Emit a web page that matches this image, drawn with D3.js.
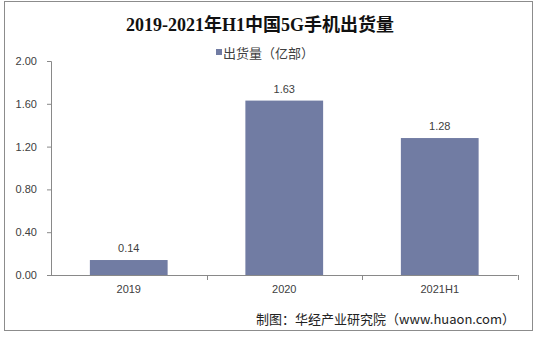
<!DOCTYPE html>
<html>
<head>
<meta charset="utf-8">
<script src="https://cdn.jsdelivr.net/npm/d3@7/dist/d3.min.js"></script>
<style>
  html, body { margin: 0; padding: 0; background: #fff; }
  svg { display: block; }
</style>
</head>
<body>
<svg id="chart" width="538" height="337"></svg>
<script>
// Shipment data
const categories = ["2019", "2020", "2021H1"];
const shipments = [0.14, 1.63, 1.28];
const yTicks = [0, 0.4, 0.8, 1.2, 1.6, 2.0];
const titleText = "2019-2021年H1中国5G手机出货量";
const legendText = "出货量（亿部）";
const sourceText = "制图：华经产业研究院（www.huaon.com）";

const svg = d3.select("#chart");
const sans = "Arial, 'Liberation Sans', 'Noto Sans CJK SC', sans-serif";
const cjk = "'Noto Sans CJK SC', 'Liberation Sans', sans-serif";
const barColor = "#717ca3";
const axisColor = "#898989";
const textColor = "#404040";

// Frame
svg.append("rect")
  .attr("x", 4.5).attr("y", 1.5)
  .attr("width", 528).attr("height", 329)
  .attr("fill", "#fff").attr("stroke", "#8c8c8c").attr("stroke-width", 1);

const plot = { left: 51, right: 517.5, top: 61, bottom: 275 };

const x = d3.scaleBand()
  .domain(categories)
  .range([plot.left, plot.right])
  .paddingInner(0.5).paddingOuter(0.25);

const y = d3.scaleLinear()
  .domain([0, 2])
  .range([plot.bottom, plot.top]);

// Bars
svg.append("g").selectAll("rect")
  .data(categories.map((c, i) => ({ c, v: shipments[i] })))
  .join("rect")
  .attr("x", d => x(d.c))
  .attr("y", d => y(d.v))
  .attr("width", x.bandwidth())
  .attr("height", d => y(0) - y(d.v))
  .attr("fill", barColor);

// Value labels
svg.append("g").selectAll("text")
  .data(categories.map((c, i) => ({ c, v: shipments[i] })))
  .join("text")
  .attr("x", d => x(d.c) + x.bandwidth() / 2)
  .attr("y", d => y(d.v) - 8)
  .attr("text-anchor", "middle")
  .attr("font-family", sans).attr("font-size", 11)
  .attr("fill", textColor)
  .text(d => d.v.toFixed(2));

// Y axis
const yAxis = d3.axisLeft(y)
  .tickValues(yTicks)
  .tickFormat(d3.format(".2f"))
  .tickSize(4).tickPadding(10);
const gy = svg.append("g").attr("transform", `translate(${plot.left},0)`).call(yAxis);
gy.select(".domain").attr("stroke", axisColor).attr("d", `M-4,${plot.top + 0.5}H0.5V${plot.bottom + 0.5}H-4`);
gy.selectAll(".tick line").attr("stroke", axisColor);
gy.selectAll(".tick text")
  .attr("font-family", sans).attr("font-size", 11).attr("fill", textColor);

// X axis
const xAxis = d3.axisBottom(x).tickSize(0).tickPadding(10);
const gx = svg.append("g").attr("transform", `translate(0,${plot.bottom})`).call(xAxis);
gx.select(".domain").attr("stroke", axisColor).attr("d", `M${plot.left},0.5H${plot.right}`);
gx.selectAll(".tick text")
  .attr("font-family", sans).attr("font-size", 11).attr("fill", textColor);
// Category separators
const bounds = categories.map(c => x(c) - x.step() * x.paddingInner() / 2).slice(1).concat([plot.right]);
gx.selectAll(".sep")
  .data(bounds)
  .join("line")
  .attr("class", "sep")
  .attr("x1", d => Math.round(d) + 0.5).attr("x2", d => Math.round(d) + 0.5)
  .attr("y1", 0).attr("y2", 5)
  .attr("stroke", axisColor);

// Title
svg.append("text")
  .attr("x", 260).attr("y", 31)
  .attr("text-anchor", "middle")
  .attr("font-family", "'Liberation Serif', 'Noto Sans CJK SC', serif")
  .attr("font-size", 18).attr("font-weight", "bold")
  .attr("fill", "#111")
  .text(titleText);

// Legend
svg.append("rect")
  .attr("x", 216).attr("y", 49).attr("width", 6).attr("height", 6)
  .attr("fill", barColor);
svg.append("text")
  .attr("x", 223).attr("y", 58)
  .attr("font-family", cjk).attr("font-size", 13)
  .attr("fill", textColor)
  .text(legendText);

// Source note
svg.append("text")
  .attr("x", 515).attr("y", 324)
  .attr("text-anchor", "end")
  .attr("font-family", cjk).attr("font-size", 13)
  .attr("fill", "#222")
  .text(sourceText);
</script>
</body>
</html>
